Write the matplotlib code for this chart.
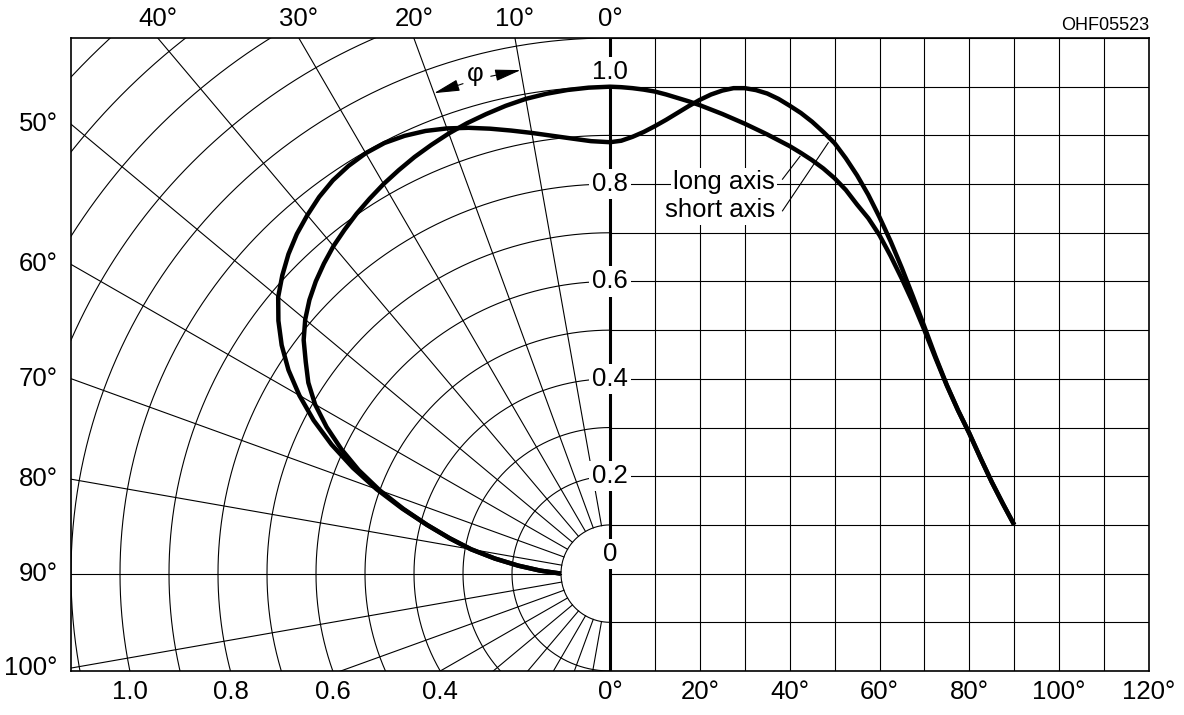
import numpy as np
import matplotlib.pyplot as plt

plt.rcParams["font.family"] = ["Liberation Sans", "DejaVu Sans"]

# relative intensity vs. emission angle (deg)
angles = [0, 2.5, 5, 7.5, 10, 12.5, 15, 17.5, 20, 22.5, 25, 27.5, 30, 32.5, 35, 37.5,
          40, 42.5, 45, 47.5, 50, 52.5, 55, 57.5, 60, 62.5, 65, 67.5, 70, 72.5, 75,
          77.5, 80, 82.5, 85, 87.5, 90]
long_axis = [1.0, 0.999, 0.997, 0.994, 0.99, 0.984, 0.977, 0.97, 0.962, 0.953,
             0.944, 0.934, 0.924, 0.913, 0.902, 0.89, 0.878, 0.864, 0.849, 0.832,
             0.812, 0.788, 0.758, 0.73, 0.695, 0.652, 0.605, 0.555, 0.5, 0.442,
             0.386, 0.335, 0.288, 0.237, 0.188, 0.143, 0.1]
short_axis = [0.886, 0.889, 0.897, 0.907, 0.919, 0.932, 0.946, 0.96, 0.973, 0.984,
              0.992, 0.997, 0.997, 0.993, 0.986, 0.975, 0.961, 0.946, 0.928, 0.907,
              0.884, 0.853, 0.818, 0.778, 0.732, 0.682, 0.627, 0.568, 0.507, 0.445,
              0.387, 0.335, 0.288, 0.237, 0.188, 0.143, 0.1]

top_angles = [40, 30, 20, 10, 0]
left_angles = [50, 60, 70, 80, 90, 100]
bottom_radii = [1.0, 0.8, 0.6, 0.4]
bottom_angles = [0, 20, 40, 60, 80, 100, 120]
axis_ticks = [0.2, 0.4, 0.6, 0.8]

SCALE = 1.1 / 120  # degrees -> x units on the right (cartesian) half
FS = 18.5


def polar_xy(theta, r):
    t = np.radians(theta)
    return -r * np.sin(t), r * np.cos(t)


fig = plt.figure(figsize=(11.84, 7.15), dpi=100)
ax = fig.add_axes([71 / 1184, 44 / 715, 1078 / 1184, 633 / 715])
ax.set_xlim(-1.1, 1.1)
ax.set_ylim(-0.2, 1.1)
ax.set_xticks([])
ax.set_yticks([])
for s in ax.spines.values():
    s.set_linewidth(1.2)

grid = dict(color="k", lw=0.8, zorder=1)

# polar half: arcs and rays
th = np.linspace(0, 180, 721)
for r in np.arange(1, 16) / 10:
    x, y = polar_xy(th, r)
    ax.plot(x, y, **grid)
for t in range(10, 180, 10):
    x, y = polar_xy(t, np.array([0.1, 2.0]))
    ax.plot(x, y, **grid)

# cartesian half
for v in np.arange(-2, 12) / 10:
    ax.plot([0, 1.1], [v, v], **grid)
for a in range(10, 120, 10):
    ax.axvline(a * SCALE, **grid)

ax.axvline(0, color="k", lw=2.2, zorder=2)

# curves: polar part (90 -> 0 deg) joined to the cartesian part (0 -> 90 deg)
ang = np.array(angles)
for vals in (long_axis, short_axis):
    vals = np.array(vals)
    px, py = polar_xy(ang, vals)
    x = np.concatenate([px[::-1], ang * SCALE])
    y = np.concatenate([py[::-1], vals])
    ax.plot(x, y, color="k", lw=3.2, zorder=5, solid_capstyle="butt",
            solid_joinstyle="round")

# labels
lab = dict(fontsize=FS, ha="center", va="center", clip_on=False)
for a in top_angles:
    ax.text(-1.1 * np.tan(np.radians(a)), 1.138, f"{a}°", **lab)
for a in left_angles:
    ax.text(-1.127, 1.1 / np.tan(np.radians(a)), f"{a}°",
            fontsize=FS, ha="right", va="center", clip_on=False)
for r in bottom_radii:
    ax.text(-np.sqrt(r ** 2 - 0.2 ** 2), -0.243, f"{r:.1f}", **lab)
for a in bottom_angles:
    ax.text(a * SCALE, -0.243, f"{a}°", **lab)

box = dict(fc="w", ec="none", boxstyle="square,pad=0.12")
for v in axis_ticks:
    ax.text(0, v, f"{v:.1f}", fontsize=FS, ha="center", va="center",
            bbox=box, zorder=4)
ax.text(0, 1.03, "1.0", fontsize=FS, ha="center", va="center", bbox=box, zorder=4)
ax.text(0, 0.04, "0", fontsize=FS, ha="center", va="center", bbox=box, zorder=4)

ax.text(1.1, 1.116, "OHF05523", fontsize=13, ha="right", va="baseline",
        clip_on=False)

# angle marker
ax.text(*polar_xy(15, 1.062), "φ", fontsize=FS, ha="center", va="center", zorder=4)
arrow = dict(arrowstyle="-|>,head_length=0.8,head_width=0.18", mutation_scale=20,
             lw=0.8, color="k", shrinkA=0, shrinkB=0)
ax.annotate("", xy=polar_xy(20, 1.05), xytext=polar_xy(16.6, 1.05), arrowprops=arrow)
ax.annotate("", xy=polar_xy(10, 1.05), xytext=polar_xy(13.4, 1.05), arrowprops=arrow)

# curve names with leader lines
tbox = dict(fc="w", ec="none", boxstyle="square,pad=0.1")
ax.text(36.7 * SCALE, 0.7895, "long axis", fontsize=FS, ha="right", va="baseline",
        bbox=tbox, zorder=4)
ax.text(36.7 * SCALE, 0.732, "short axis", fontsize=FS, ha="right", va="baseline",
        bbox=tbox, zorder=4)
ax.plot([38.4 * SCALE, 42.3 * SCALE], [0.810, 0.857], color="k", lw=0.8, zorder=4)
ax.plot([38.4 * SCALE, 48.6 * SCALE], [0.745, 0.885], color="k", lw=0.8, zorder=4)

fig.savefig("out.png", dpi=100)
